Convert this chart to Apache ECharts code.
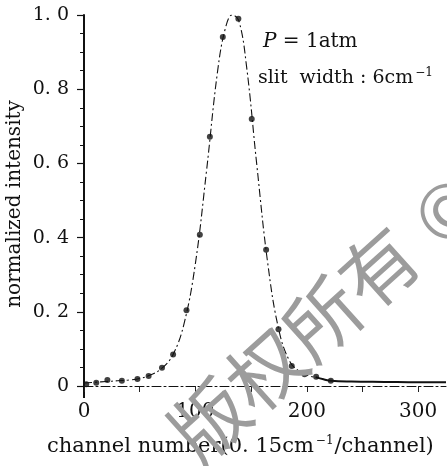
<!DOCTYPE html>
<html>
<head>
<meta charset="utf-8">
<script src="https://cdn.jsdelivr.net/npm/echarts@6/dist/echarts.min.js"></script>
<style>
  html, body { margin: 0; padding: 0; background: #fff; }
  #chart { width: 447px; height: 466px; }
</style>
</head>
<body>
<div id="chart"></div>
<script>
// Measured samples: channel number vs normalized intensity
const sampleChannels  = [2, 11, 21, 34, 48, 58, 70, 80, 92, 104, 113, 124.6, 138.6, 150.6, 163.5, 174.6, 186.5, 198, 208.4, 221.6];
const sampleIntensity = [0.005, 0.009, 0.016, 0.014, 0.019, 0.027, 0.049, 0.085, 0.204, 0.408, 0.672, 0.941, 0.99, 0.72, 0.367, 0.153, 0.054, 0.032, 0.025, 0.014];

// Calculated line profile (dash-dot)
const curveChannels  = [0, 10, 20, 30, 40, 50, 60, 70, 80, 90, 100, 110, 120, 127, 133, 139, 146, 155, 165, 175, 185, 195, 202, 210];
const curveIntensity = [0.008, 0.010, 0.012, 0.014, 0.016, 0.020, 0.030, 0.048, 0.085, 0.170, 0.330, 0.580, 0.850, 0.965, 1.0, 0.985, 0.86, 0.60, 0.33, 0.15, 0.065, 0.036, 0.027, 0.022];

// Far wing (solid)
const tailChannels  = [208, 215, 222, 240, 270, 300, 325];
const tailIntensity = [0.024, 0.018, 0.014, 0.012, 0.011, 0.010, 0.010];

// Axis ticks and labels
const xTickValues  = [0, 50, 100, 150, 200, 250, 300];
const xLabelValues = [0, 100, 200, 300];
const yLabelTexts  = ['0', '0. 2', '0. 4', '0. 6', '0. 8', '1. 0'];

const zip = (xs, ys) => xs.map((x, i) => [x, ys[i]]);
const SERIF = '"DejaVu Serif", "Liberation Serif", serif';

const chart = echarts.init(document.getElementById('chart'), null, { renderer: 'canvas' });

chart.setOption({
  animation: false,
  backgroundColor: '#fff',
  grid: { left: 84, right: 1, top: 15, bottom: 80 },
  xAxis: {
    type: 'value',
    min: 0, max: 325, interval: 50,
    splitLine: { show: false },
    axisLine: { lineStyle: { color: '#111', width: 1, type: [9, 3, 2, 3] } },
    axisTick: { customValues: xTickValues, length: 6, lineStyle: { color: '#222', width: 1 } },
    axisLabel: {
      customValues: xLabelValues,
      margin: 16,
      color: '#111',
      fontFamily: SERIF,
      fontSize: 20
    }
  },
  yAxis: {
    type: 'value',
    min: 0, max: 1, interval: 0.2,
    splitLine: { show: false },
    axisLine: { lineStyle: { color: '#111', width: 2 } },
    axisTick: { length: 7, lineStyle: { color: '#111', width: 1.2 } },
    minorTick: { show: true, splitNumber: 4, length: 4, lineStyle: { color: '#111', width: 1 } },
    axisLabel: {
      margin: 15,
      color: '#111',
      fontFamily: SERIF,
      fontSize: 19,
      formatter: v => yLabelTexts[Math.round(v / 0.2)]
    }
  },
  series: [
    {
      name: 'profile',
      type: 'line',
      data: zip(curveChannels, curveIntensity),
      smooth: 0.4,
      showSymbol: false,
      lineStyle: { color: '#111', width: 1.1, type: [8, 3, 2, 3] },
      z: 2
    },
    {
      name: 'wing',
      type: 'line',
      data: zip(tailChannels, tailIntensity),
      smooth: 0.4,
      showSymbol: false,
      lineStyle: { color: '#111', width: 2 },
      z: 2
    },
    {
      name: 'measured',
      type: 'scatter',
      data: zip(sampleChannels, sampleIntensity),
      symbol: 'circle',
      symbolSize: 6,
      itemStyle: { color: '#111' },
      z: 3
    }
  ]
});

// Extension of the vertical axis line below zero
const origin = chart.convertToPixel({ gridIndex: 0 }, [0, 0]);

chart.setOption({
  graphic: [
    {
      type: 'line',
      shape: { x1: origin[0], y1: origin[1], x2: origin[0], y2: origin[1] + 12 },
      style: { stroke: '#111', lineWidth: 2 }
    },
    {
      type: 'text',
      left: 263, top: 32,
      style: {
        text: '{it|P} = 1atm',
        font: '20px ' + SERIF,
        fill: '#111',
        rich: { it: { fontStyle: 'italic', fontSize: 20, fontFamily: SERIF } }
      }
    },
    {
      type: 'text',
      left: 258, top: 67,
      style: {
        text: 'slit  width : 6cm{sup|−1}',
        font: '19px ' + SERIF,
        fill: '#111',
        rich: { sup: { fontSize: 12, fontFamily: SERIF, padding: [0, 0, 10, 2] } }
      }
    },
    {
      type: 'text',
      x: 15, y: 204,
      rotation: Math.PI / 2,
      style: {
        text: 'normalized intensity',
        font: '20px ' + SERIF,
        fill: '#111',
        align: 'center',
        verticalAlign: 'middle'
      }
    },
    {
      type: 'text',
      left: 47, top: 435,
      style: {
        text: 'channel number(0. 15cm{sup|−1}/channel)',
        font: '21px ' + SERIF,
        fill: '#111',
        rich: { sup: { fontSize: 12, fontFamily: SERIF, padding: [0, 1, 11, 2] } }
      }
    },
    {
      type: 'text',
      x: 294, y: 344,
      rotation: 42 * Math.PI / 180,
      z: 100,
      style: {
        text: '版权所有',
        font: '76px "Noto Sans CJK SC"',
        fill: '#9c9c9c',
        align: 'center',
        verticalAlign: 'middle'
      }
    },
    {
      type: 'text',
      x: 447, y: 210,
      rotation: 42 * Math.PI / 180,
      z: 100,
      style: {
        text: '©',
        font: '74px "Noto Sans CJK SC"',
        fill: '#9c9c9c',
        align: 'center',
        verticalAlign: 'middle'
      }
    }
  ]
});
</script>
</body>
</html>
